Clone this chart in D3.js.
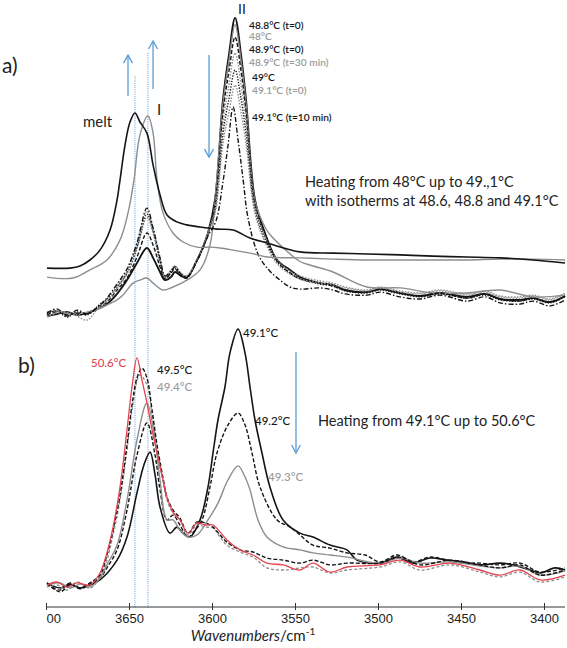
<!DOCTYPE html>
<html><head><meta charset="utf-8">
<script src="https://cdn.jsdelivr.net/npm/d3@7"></script>
<style>html,body{margin:0;padding:0;background:#fff;}svg{display:block;}</style>
</head><body>
<svg id="c" width="567" height="648"></svg>
<script>
// ---------- DATA (wavenumber cm-1, relative absorbance) ----------
const xTicks = [3700, 3650, 3600, 3550, 3500, 3450, 3400];
const xTickLabels = ["3700","3650","3600","3550","3500","3450","3400"];

// Panel a
const a_melt = [[3699.4,17.3],[3685.5,17.3],[3679.5,18],[3673.5,20],[3667.5,23.3],[3661.4,30],[3657.2,40],[3655.4,46.7],[3652.4,58.3],[3649.4,66],[3646.4,69],[3643.4,66],[3639.2,62.3],[3635.5,51.7],[3631.3,41.7],[3627.1,35],[3621.1,32.7],[3615.1,31.7],[3607.2,31],[3597,30.3],[3587.3,30],[3577.1,27.3],[3566.9,25.7],[3547,22.7],[3527.1,22.3],[3506.6,22],[3486.7,21.7],[3466.9,21.3],[3446.4,21],[3426.5,20.7],[3406.6,20],[3387.3,19]];
const a_formI = [[3699.4,14.3],[3683.7,14],[3673.5,16.7],[3663.3,20],[3655.4,26.7],[3650.6,35.7],[3647,46.7],[3643.4,61.7],[3638.6,68],[3635.5,62.3],[3633.1,46.7],[3629.5,35.7],[3623.5,29],[3617.5,26],[3609,24.3],[3601.2,24.3],[3595.2,24],[3587.3,23.3],[3577.1,22.3],[3566.9,21],[3547,20.7],[3527.1,20.3],[3506.6,20],[3486.7,20],[3466.9,20],[3446.4,20],[3426.5,20.3],[3406.6,20.3],[3387.3,20]];
const a_491_t10 = [[3699.4,2.3],[3693.4,3.7],[3687.3,1.3],[3681.3,3.3],[3675.3,2],[3667.5,5],[3663.3,7.3],[3657.2,12],[3651.2,17],[3645.2,25.7],[3639.2,37.3],[3635.5,30.7],[3631.3,20.7],[3628.3,14.7],[3624.7,16.3],[3622.3,17.7],[3618.7,15.3],[3615.1,14.3],[3609,19.7],[3605.4,24],[3602.4,28],[3597.6,33],[3593.4,46],[3590.4,58],[3587.3,71],[3584.3,60],[3581.3,47],[3578.3,34],[3572.3,22],[3566.3,17],[3559,13.3],[3553,11],[3547,10.3],[3535,10.7],[3527.1,10],[3519.9,8.7],[3506.6,8.3],[3498.8,9.3],[3486.7,7.7],[3474.7,7],[3462.7,8.3],[3446.4,6.3],[3435.5,7.7],[3426.5,5.7],[3414.5,5.3],[3406.6,6.3],[3396.4,4.7],[3387.3,6.7]];
const a_491_t0 = [[3699.4,1.3],[3693.4,2.7],[3687.3,2.3],[3681.3,1.7],[3675.3,2.7],[3667.5,4.3],[3663.3,6.3],[3657.2,11.3],[3651.2,16.3],[3645.2,25],[3639.2,36.3],[3635.5,30.3],[3631.3,20.3],[3628.3,14.3],[3624.7,16.7],[3622.3,18],[3618.7,15.3],[3615.1,14.7],[3609,20],[3605.4,24.3],[3602.4,29],[3598.2,35.5],[3593.4,58.8],[3589.8,69.3],[3586.1,78.3],[3582.5,69.3],[3579.5,58.8],[3574.1,35.5],[3568.1,26],[3560.8,18.7],[3553,15.3],[3547,13.7],[3535,12.3],[3527.1,11.7],[3519.9,10.7],[3506.6,9.7],[3498.8,10.7],[3486.7,9.3],[3474.7,8.7],[3462.7,9.7],[3446.4,8.3],[3435.5,9.3],[3426.5,7.7],[3414.5,7.3],[3406.6,8],[3396.4,6.7],[3387.3,8.7]];
const a_490 = [[3699.4,2],[3693.4,3],[3687.3,1],[3681.3,2.7],[3675.3,1.7],[3667.5,5.3],[3663.3,7],[3657.2,11],[3651.2,15.7],[3645.2,24.3],[3639.2,35.3],[3635.5,29.7],[3631.3,19.7],[3628.3,14],[3624.7,15.7],[3622.3,17.3],[3618.7,15],[3615.1,14.3],[3609,20],[3605.4,24.3],[3602.4,29],[3598.2,36.6],[3593.4,62.2],[3589.8,73.7],[3586.1,83.3],[3582.5,73.7],[3579.5,62.2],[3574.1,36.6],[3568.1,27],[3560.8,19.3],[3553,15.7],[3547,13.7],[3535,12],[3527.1,11.3],[3519.9,9.7],[3506.6,9],[3498.8,10],[3486.7,8.7],[3474.7,7.7],[3462.7,8.7],[3446.4,7.3],[3435.5,8.3],[3426.5,6.7],[3414.5,6.3],[3406.6,7],[3396.4,5.7],[3387.3,7.7]];
const a_489_t30 = [[3699.4,1],[3693.4,2.3],[3687.3,2.7],[3681.3,1.3],[3675.3,0],[3667.5,4.7],[3663.3,6.3],[3657.2,10.7],[3651.2,15.3],[3645.2,23.7],[3639.2,34.3],[3635.5,29],[3631.3,19.3],[3628.3,14.7],[3624.7,16.3],[3622.3,18],[3618.7,15.7],[3615.1,14.7],[3609,20.3],[3605.4,24.7],[3602.4,29.3],[3598.2,37.7],[3593.4,65.8],[3589.8,78.5],[3586.1,89],[3582.5,78.5],[3579.5,65.8],[3574.1,37.7],[3568.1,28],[3560.8,20],[3553,16.3],[3547,14.7],[3535,13],[3527.1,12.3],[3519.9,11],[3506.6,10],[3498.8,11],[3486.7,9.7],[3474.7,9],[3462.7,10],[3446.4,8.7],[3435.5,9.7],[3426.5,8],[3414.5,7.7],[3406.6,8.3],[3396.4,7],[3387.3,9]];
const a_489_t0 = [[3699.4,1.7],[3693.4,2.7],[3687.3,1.7],[3681.3,2.3],[3675.3,2],[3667.5,4.7],[3663.3,6],[3657.2,10],[3651.2,14],[3645.2,21],[3639.2,29],[3635.5,25],[3631.3,17.7],[3628.3,13.7],[3624.7,15.7],[3622.3,17],[3618.7,14.7],[3615.1,14],[3609,20],[3605.4,24.3],[3602.4,29],[3598.2,38.7],[3593.4,69.2],[3589.8,82.9],[3586.1,94.3],[3582.5,82.9],[3579.5,69.2],[3574.1,38.7],[3568.1,28.3],[3560.8,19.7],[3553,15.7],[3547,13.7],[3535,12.3],[3527.1,11.3],[3519.9,10],[3506.6,9.3],[3498.8,10.3],[3486.7,9],[3474.7,8],[3462.7,9],[3446.4,7.3],[3435.5,8.7],[3426.5,7],[3414.5,6.3],[3406.6,7.3],[3396.4,6],[3387.3,8]];
const a_480 = [[3699.4,2.7],[3693.4,3],[3687.3,2],[3681.3,2.3],[3673.5,2.7],[3663.3,5],[3657.2,6.7],[3653.6,8.3],[3647.6,12.3],[3643.4,13.3],[3639.2,14],[3635.5,12.3],[3629.5,10],[3623.5,11],[3615.1,13.3],[3607.2,16.7],[3601.2,25],[3598.2,39.6],[3593.4,71.9],[3589.8,86.4],[3586.1,98.4],[3582.5,86.4],[3579.5,71.9],[3574.1,39.6],[3568.1,31],[3565.1,28.5],[3556,23.5],[3547,19.5],[3539,18],[3527.1,16],[3506.6,11],[3486.7,10.7],[3466.9,9],[3446.4,9],[3426.5,10],[3406.6,7.7],[3387.3,8.3]];
const a_488_t0 = [[3699.4,1.3],[3693.4,2],[3687.3,2.7],[3681.3,1.7],[3675.3,2.3],[3667.5,4],[3663.3,5.3],[3657.2,8.7],[3651.2,13.3],[3645.2,19],[3639.2,24],[3635.5,20.7],[3631.3,16],[3628.3,13.3],[3624.7,14.3],[3622.3,16],[3618.7,14.7],[3615.1,14.3],[3609,20],[3605.4,24.3],[3602.4,29],[3598.2,40],[3593.4,73.3],[3589.8,88.3],[3586.1,100.7],[3582.5,88.3],[3579.5,73.3],[3574.1,40],[3568.1,29],[3560.8,20],[3553,16.7],[3547,14.3],[3535,12.3],[3527.1,11.7],[3519.9,10],[3506.6,9.3],[3498.8,10.3],[3486.7,9],[3474.7,8],[3462.7,9],[3446.4,7.7],[3435.5,8.7],[3426.5,7],[3414.5,6.7],[3406.6,7.3],[3396.4,6],[3387.3,8]];

// Panel b
const b_491 = [[3699.4,5.7],[3691.6,4],[3685.5,5.3],[3679.5,4],[3673.5,5],[3667.5,6.7],[3657.2,13.3],[3651.2,21],[3645.2,35.7],[3641,45],[3637.3,49.3],[3634.3,41.7],[3631.3,31],[3625.3,22.3],[3621.1,24.3],[3617.5,22.3],[3613.3,21],[3607.2,26.7],[3602.4,37.7],[3599.4,49],[3596.4,60],[3592.2,71],[3589.2,82.3],[3584.3,90.3],[3580.1,82.3],[3577.1,71],[3574.1,60],[3569.9,49],[3565.1,37.7],[3557.2,26.7],[3547,22.3],[3539.2,21],[3528.9,18.3],[3518.7,16.7],[3512.7,13.3],[3498.8,12.3],[3488.6,14.3],[3478.9,12.3],[3468.7,14],[3458.4,13.3],[3448.8,12.7],[3438.6,11.7],[3426.5,12.3],[3418.7,11.7],[3408.4,10],[3402.4,9],[3393.4,10.7],[3387.3,10]];
const b_492 = [[3699.4,5.3],[3691.6,3.3],[3685.5,5.7],[3679.5,3.7],[3673.5,5.3],[3667.5,7.3],[3663.3,10.7],[3657.2,16.7],[3651.2,30],[3645.2,48.3],[3639.2,59],[3634.3,48.3],[3631.3,36.7],[3627.1,26.7],[3623.5,28.3],[3619.3,25],[3614.5,21],[3610.2,23.3],[3606,26.7],[3601.2,37.7],[3597,49],[3590.4,58.3],[3584.3,62.3],[3580.1,58.3],[3575.9,49],[3571.1,37.7],[3560.8,26.7],[3553,24.3],[3547,21.7],[3539.2,18.3],[3528.9,17.3],[3518.7,15.7],[3507.8,15],[3498.8,12.7],[3488.6,15],[3478.9,12.7],[3468.7,14.3],[3458.4,13.3],[3448.8,12.3],[3438.6,12.3],[3426.5,11.7],[3414.5,12.3],[3402.4,9.3],[3387.3,10.7]];
const b_493 = [[3699.4,5],[3691.6,5.7],[3685.5,4],[3679.5,5.3],[3673.5,4.3],[3667.5,7.3],[3663.3,11.7],[3657.2,18.3],[3651.2,33.3],[3645.2,53.3],[3639.2,65.7],[3634.3,53.3],[3631.3,40],[3627.1,26.7],[3623.5,26.7],[3619.3,23.3],[3614.5,21],[3609,21.7],[3602.4,26.7],[3596.4,32.3],[3590.4,40],[3584.3,44.7],[3580.1,41],[3577.1,36.7],[3572.3,26.7],[3566.9,21],[3557.2,17.7],[3547,16.7],[3539.2,15.7],[3528.9,15],[3518.7,14.3],[3498.8,12.3],[3486.7,14],[3474.7,12.3],[3456.6,12.7],[3438.6,11.3],[3426.5,10.7],[3414.5,11.3],[3402.4,8.3],[3387.3,9.7]];
const b_494 = [[3699.4,4.3],[3693.4,5],[3687.3,3.3],[3681.3,6],[3673.5,4],[3667.5,7.7],[3663.3,13.3],[3659.6,21.7],[3655.4,33.3],[3651.2,50],[3648.2,63.3],[3643.4,75],[3639.2,71.7],[3636.1,61.7],[3633.1,50],[3629.5,39.3],[3627.1,33.3],[3623.5,29],[3619.3,26.7],[3614.5,21.7],[3609,25],[3604.2,24.3],[3599.4,24],[3595.2,21],[3591,18.3],[3583.1,16],[3575.3,14.3],[3566.9,10.7],[3557.2,10],[3547,10.7],[3539.2,11],[3528.9,9],[3518.7,10],[3498.8,11],[3486.7,12.7],[3474.7,10],[3456.6,11.7],[3438.6,9.3],[3426.5,7.7],[3414.5,9.3],[3402.4,6],[3387.3,7.7]];
const b_495 = [[3699.4,5.7],[3691.6,2.7],[3685.5,5],[3679.5,4],[3673.5,5.7],[3667.5,8.3],[3663.3,15],[3659.6,23.3],[3655.4,35],[3651.2,51.7],[3648.2,65],[3645.2,74],[3642.2,77.3],[3639.2,74],[3636.1,63.3],[3633.1,51.7],[3629.5,40.7],[3627.1,34.3],[3623.5,30],[3619.3,27.3],[3614.5,22.3],[3609,26],[3604.2,25.7],[3599.4,24.3],[3595.2,21.7],[3591,19.3],[3583.1,16.7],[3575.3,16],[3566.9,14],[3557.2,13.3],[3547,12.3],[3539.2,13.3],[3528.9,11.7],[3518.7,12.3],[3498.8,12.3],[3486.7,14.3],[3474.7,11.7],[3456.6,13.3],[3438.6,11.7],[3426.5,10.7],[3414.5,11.7],[3402.4,8.3],[3387.3,10]];
const b_506 = [[3699.4,5],[3693.4,6],[3687.3,4.3],[3681.3,5.7],[3673.5,5],[3667.5,9],[3663.3,15.7],[3659.6,24.3],[3655.4,37.7],[3651.2,56.7],[3648.2,71],[3645.2,80.7],[3642.2,73.3],[3639.2,65.7],[3636.1,56.7],[3633.1,49],[3629.5,40],[3627.1,34.3],[3623.5,29.3],[3619.3,26.7],[3614.5,22.3],[3609,25.7],[3604.2,25],[3599.4,25],[3595.2,22.7],[3591,20],[3583.1,16.7],[3575.3,15],[3566.9,12.3],[3557.2,11.7],[3547,10],[3539.2,12.3],[3528.9,9.3],[3518.7,11],[3498.8,11.7],[3486.7,13.3],[3474.7,11],[3456.6,12.3],[3438.6,10],[3426.5,8.3],[3414.5,10],[3402.4,6.7],[3387.3,8.3]];

// ---------- DRAWING ----------
const svg = d3.select("#c");
const x = d3.scaleLinear().domain([3700, 3400]).range([46, 544]);
const yA = d3.scaleLinear().domain([0, 100]).range([320, 20]);
const yB = d3.scaleLinear().domain([0, 100]).range([600, 300]);

const BLACK = "#151515", GREY = "#8d8d8d", GREYT = "#9a9a9a", RED = "#e4434f", BLUE = "#5b9bd5";
const styles = {
  solidK: {c: BLACK, w: 1.6, d: null},
  thickK: {c: BLACK, w: 1.9, d: null},
  dashK: {c: BLACK, w: 1.4, d: "4,2"},
  dotK: {c: BLACK, w: 1.4, d: "1.3,1.5"},
  dashdotK: {c: BLACK, w: 1.4, d: "5,2,1.5,2"},
  solidG: {c: GREY, w: 1.4, d: null},
  dotG: {c: GREY, w: 1.4, d: "1.5,1.5"},
  dashG: {c: GREY, w: 1.3, d: "3,2"},
  solidR: {c: RED, w: 1.3, d: null}
};

const seriesA = [
  {name: "48.8°C (t=0)", data: a_488_t0, s: "thickK"},
  {name: "48°C", data: a_480, s: "solidG"},
  {name: "48.9°C (t=0)", data: a_489_t0, s: "dashK"},
  {name: "48.9°C (t=30 min)", data: a_489_t30, s: "dotG"},
  {name: "49°C", data: a_490, s: "dotK"},
  {name: "49.1°C (t=0)", data: a_491_t0, s: "dotG"},
  {name: "49.1°C (t=10 min)", data: a_491_t10, s: "dashdotK"},
  {name: "I", data: a_formI, s: "solidG"},
  {name: "melt", data: a_melt, s: "solidK"}
];
const seriesB = [
  {name: "49.1°C", data: b_491, s: "solidK"},
  {name: "49.2°C", data: b_492, s: "dashK"},
  {name: "49.3°C", data: b_493, s: "solidG"},
  {name: "49.4°C", data: b_494, s: "dashG"},
  {name: "49.5°C", data: b_495, s: "dashK"},
  {name: "50.6°C", data: b_506, s: "solidR"}
];

function drawSeries(list, y) {
  const line = d3.line().x(d => x(d[0])).y(d => y(d[1])).curve(d3.curveCatmullRom.alpha(0.5));
  svg.append("g").selectAll("path").data(list).join("path")
    .attr("d", d => line(d.data))
    .attr("fill", "none")
    .attr("stroke", d => styles[d.s].c)
    .attr("stroke-width", d => styles[d.s].w)
    .attr("stroke-dasharray", d => styles[d.s].d)
    .attr("stroke-linejoin", "round");
}

// blue dotted reference lines (peak positions of melt and form I)
const refLines = [{w: 3646.4, top: yA(81.3)}, {w: 3638.6, top: yA(89)}];
svg.append("g").selectAll("line").data(refLines).join("line")
  .attr("x1", d => x(d.w)).attr("x2", d => x(d.w))
  .attr("y1", d => d.top).attr("y2", 608)
  .attr("stroke", BLUE).attr("stroke-width", 1).attr("stroke-dasharray", "1,1.2");

drawSeries(seriesA, yA);
drawSeries(seriesB, yB);

// arrows
function arrow(x0, y0, y1) {
  const g = svg.append("g").attr("stroke", BLUE).attr("stroke-width", 1.3).attr("fill", "none");
  g.append("line").attr("x1", x0).attr("x2", x0).attr("y1", y0).attr("y2", y1);
  const dir = y1 < y0 ? 1 : -1;
  g.append("path").attr("d", `M${x0-4.5},${y1+dir*8}L${x0},${y1}L${x0+4.5},${y1+dir*8}`);
}
arrow(x(3650.6), yA(74.7), yA(88.3));
arrow(x(3635.5), yA(77), yA(93));
arrow(x(3601.8), yA(88.3), yA(54.3));
arrow(x(3549.4), yB(82.7), yB(49));

// x axis (the left end of the original figure is cropped)
svg.append("clipPath").attr("id", "axclip").append("rect")
  .attr("x", 46).attr("y", -20).attr("width", 530).attr("height", 60);
const ax = svg.append("g").attr("transform", "translate(0,607)").attr("clip-path", "url(#axclip)")
  .call(d3.axisBottom(x).tickValues(xTicks).tickFormat((d, i) => xTickLabels[i]).tickSize(3).tickPadding(4));
ax.select(".domain").attr("d", "M47,0H565").attr("stroke", "#333");
ax.selectAll(".tick line").attr("y1", -4).attr("stroke", "#333");
ax.selectAll(".tick text").attr("font-family", "Liberation Sans, Arial, sans-serif").attr("font-size", 13).attr("fill", "#222");

const title = svg.append("text").attr("x", 253).attr("y", 641).attr("text-anchor", "middle")
  .attr("font-family", "Lato, sans-serif").attr("font-size", 15).attr("fill", "#222");
title.append("tspan").attr("font-style", "italic").text("Wavenumbers");
title.append("tspan").text("/cm");
title.append("tspan").attr("font-size", 10).attr("dy", -6).text("-1");

// text annotations
const F = "Lato, 'Open Sans', sans-serif";
function txt(t, x0, y0, size, color, weight) {
  svg.append("text").attr("x", x0).attr("y", y0).attr("font-family", F).attr("font-size", size)
    .attr("fill", color).attr("font-weight", weight || 400).text(t);
}
txt("a)", 2, 73, 21, "#222");
txt("b)", 18, 373, 21, "#222");
txt("melt", 83, 127, 15, "#222");
txt("I", 157, 115, 15, "#222");
txt("II", 238, 14, 14, "#222");
const legA = [
  ["48.8°C (t=0)", 249, 28.5, BLACK], ["48°C", 249, 39.5, GREYT], ["48.9°C (t=0)", 249, 53, BLACK],
  ["48.9°C (t=30 min)", 249, 66, GREYT], ["49°C", 252, 81, BLACK], ["49.1°C (t=0)", 252, 94, GREYT],
  ["49.1°C (t=10 min)", 252, 121, BLACK]
];
legA.forEach(l => txt(l[0], l[1], l[2], 10.2, l[3], 600));
txt("Heating from 48°C up to 49.,1°C", 305, 187, 14.5, "#222");
txt("with isotherms at 48.6, 48.8 and 49.1°C", 305, 206, 14.5, "#222");
const legB = [
  ["49.1°C", 243, 337, BLACK], ["50.6°C", 91, 367, RED], ["49.5°C", 157, 374, BLACK],
  ["49.4°C", 157, 391, GREYT], ["49.2°C", 255, 425, BLACK], ["49.3°C", 268, 481, GREYT]
];
legB.forEach(l => txt(l[0], l[1], l[2], 11.5, l[3], 500));
txt("Heating from 49.1°C up to 50.6°C", 318, 426, 14.5, "#222");
</script>
</body></html>
